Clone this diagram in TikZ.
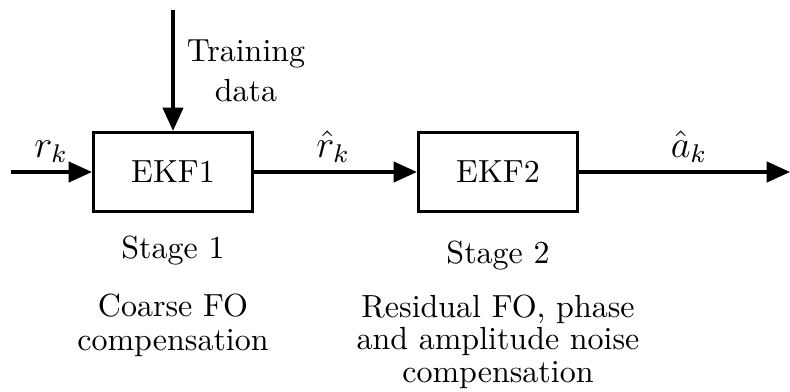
\documentclass[tikz,border=0pt]{standalone}
\usetikzlibrary{arrows.meta}
\begin{document}
\begin{tikzpicture}[x=0.3125pt,y=-0.3125pt,
  blk/.style={draw, line width=1pt, minimum width=49.7pt, minimum height=24.7pt, inner sep=0pt},
  sig/.style={line width=0.95pt, -{Triangle[length=7.3pt,width=6.4pt]}},
  lbl/.style={inner sep=0pt, anchor=base},
  mlbl/.style={inner sep=0pt, anchor=base, font=\large},
  note/.style={inner sep=0pt, anchor=base, align=center}]
\useasboundingbox (0,0) rectangle (790,391);
\node[blk] (ekf1) at (173,172) {EKF1};
\node[blk] (ekf2) at (498,172) {EKF2};
\coordinate (in) at (11,172);
\coordinate (td) at (173,10);
\coordinate (out) at (790,172);
\draw[sig] (in) -- (ekf1);
\draw[sig] (td) -- (ekf1);
\draw[sig] (ekf1) -- (ekf2);
\draw[sig] (ekf2) -- (out);
\node[mlbl] (rk) at (51,157) {$r_k$};
\node[mlbl] (rhk) at (333,157) {$\hat{r}_k$};
\node[mlbl] (ahk) at (689,157) {$\hat{a}_k$};
\node[note, font=\fontsize{10}{12.5}\selectfont] (train) at (246,102) {Training\\data};
\node[lbl] (st1) at (173,258) {Stage 1};
\node[lbl] (st2) at (498,263) {Stage 2};
\node[note, font=\fontsize{10}{10.6}\selectfont] (d1) at (173,350) {Coarse FO\\compensation};
\node[note, font=\fontsize{10}{10.1}\selectfont] (d2) at (498,382) {Residual FO, phase\\and amplitude noise\\compensation};
\end{tikzpicture}
\end{document}
